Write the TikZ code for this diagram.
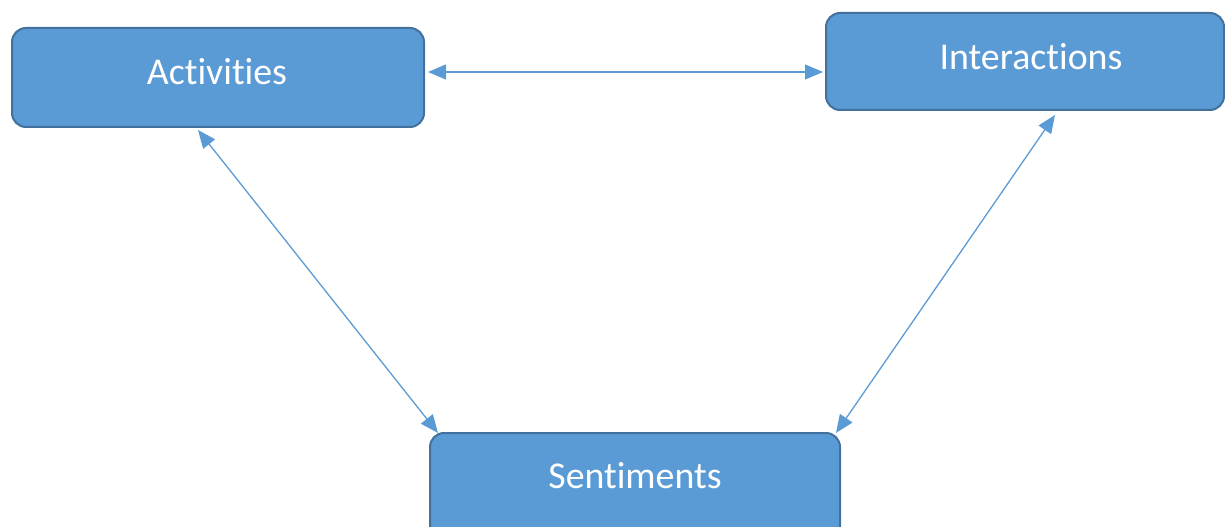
\documentclass[tikz,border=0pt]{standalone}
\usepackage{fontspec}
\setmainfont{Carlito}[Ligatures=NoCommon]
\usetikzlibrary{arrows.meta}
\definecolor{boxfill}{HTML}{5B9BD5}
\definecolor{boxline}{HTML}{41719C}
\begin{document}
\begin{tikzpicture}[x=1bp,y=-1bp,
  panel/.style={draw=boxline, fill=boxfill, line width=2bp, rounded corners=14bp},
  caption/.style={text=white, font=\fontsize{38}{44}\selectfont, inner sep=0pt},
  link/.style={draw=boxfill, line width=1.3bp,
    {Triangle[length=18bp,width=15bp]}-{Triangle[length=18bp,width=15bp]}}]
\useasboundingbox (0,0) rectangle (1225,527);
\clip (0,0) rectangle (1225,527);
% boxes
\draw[panel] (12,28) rectangle (424,127);
\draw[panel] (826,13) rectangle (1224,110);
\draw[panel] (430,433) rectangle (840,545);
% labels
\node[caption] (act) at (217,72) {Activities};
\node[caption] (int) at (1031,57) {Interactions};
\node[caption] (sen) at (635,476) {Sentiments};
% connector end points
\coordinate (actR) at (428,72);
\coordinate (intL) at (823,72);
\coordinate (actB) at (198,130);
\coordinate (senL) at (438,433);
\coordinate (intB) at (1055,115);
\coordinate (senR) at (836,433);
% connectors
\draw[link] (actR) -- (intL);
\draw[link] (actB) -- (senL);
\draw[link] (intB) -- (senR);
\end{tikzpicture}
\end{document}
